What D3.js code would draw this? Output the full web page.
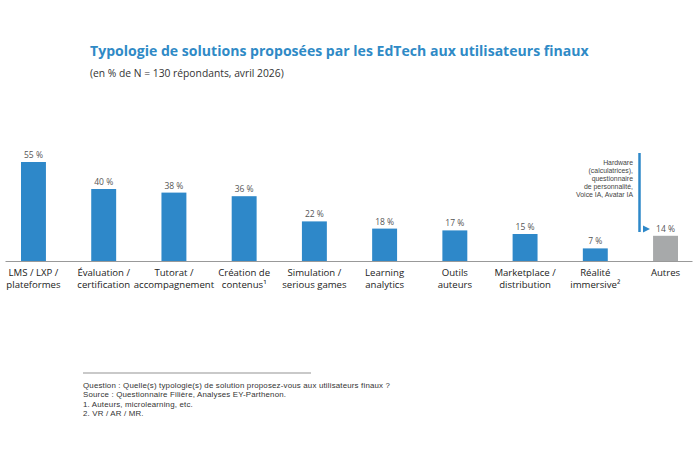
<!DOCTYPE html>
<html>
<head>
<meta charset="utf-8">
<script src="https://cdn.jsdelivr.net/npm/d3@7"></script>
<style>
  body { margin: 0; background: #fff; }
  svg { font-family: "Open Sans", "Noto Sans", sans-serif; }
</style>
</head>
<body>
<div class="chart"></div>
<script>
const categories = [
  ['LMS / LXP /', 'plateformes'],
  ['Évaluation /', 'certification'],
  ['Tutorat /', 'accompagnement'],
  ['Création de', 'contenus¹'],
  ['Simulation /', 'serious games'],
  ['Learning', 'analytics'],
  ['Outils', 'auteurs'],
  ['Marketplace /', 'distribution'],
  ['Réalité', 'immersive²'],
  ['Autres']
]
const values = [55, 40, 38, 36, 22, 18, 17, 15, 7, 14]
const otherNote = ['Hardware', '(calculatrices),', 'questionnaire', 'de personnalité,', 'Voice IA, Avatar IA']
const footnotes = [
  'Question : Quelle(s) typologie(s) de solution proposez-vous aux utilisateurs finaux ?',
  'Source : Questionnaire Filière, Analyses EY-Parthenon.',
  '1. Auteurs, microlearning, etc.',
  '2. VR / AR / MR.'
]
const title = 'Typologie de solutions proposées par les EdTech aux utilisateurs finaux'
const subtitle = '(en % de N = 130 répondants, avril 2026)'

const width = 700
const height = 470
const baseY = 261

const svg = d3.select('.chart')
  .append('svg')
  .attr('width', width)
  .attr('height', height)

const keys = categories.map((c, i) => i)

const x = d3.scaleBand()
  .domain(keys)
  .range([21, 678])
  .paddingInner(0.645)
  .paddingOuter(0)

const y = d3.scaleLinear()
  .domain([0, 55])
  .range([baseY, baseY - 99])

// title
const t = svg.append('text')
  .attr('x', 90)
  .attr('y', 56)
  .attr('fill', '#2f8ac6')
  .attr('font-weight', 700)
  .attr('font-size', 15)
  .text(title)
// fit the title to the width in the picture
const tw = t.node().getComputedTextLength()
t.attr('font-size', 15 * 499 / tw)

const st = svg.append('text')
  .attr('x', 90)
  .attr('y', 77)
  .attr('fill', '#333')
  .attr('font-size', 10)
  .text(subtitle)
st.attr('font-size', 10 * 194 / st.node().getComputedTextLength())

// bars
svg.selectAll('.bar')
  .data(values)
  .join('rect')
  .attr('class', 'bar')
  .attr('x', (d, i) => x(i))
  .attr('y', d => y(d))
  .attr('width', x.bandwidth())
  .attr('height', d => y(0) - y(d))
  .attr('fill', (d, i) => i === values.length - 1 ? '#a7a9aa' : '#2e88c9')

// value labels
svg.selectAll('.val')
  .data(values)
  .join('text')
  .attr('class', 'val')
  .attr('x', (d, i) => x(i) + x.bandwidth() / 2)
  .attr('y', d => y(d) - 4)
  .attr('text-anchor', 'middle')
  .attr('font-size', 8.5)
  .attr('fill', '#555')
  .text(d => d + ' %')

// axis line
const axis = svg.append('g')
  .attr('transform', `translate(0,${baseY})`)
  .call(d3.axisBottom(d3.scaleLinear().domain([0, 1]).range([5, 692])).ticks(0).tickSize(0).tickFormat(''))
axis.select('.domain').attr('stroke', '#999').attr('stroke-width', 1)

// category labels
const cats = svg.selectAll('.cat')
  .data(categories)
  .join('text')
  .attr('class', 'cat')
  .attr('x', (d, i) => x(i) + x.bandwidth() / 2)
  .attr('y', 276)
  .attr('text-anchor', 'middle')
  .attr('font-size', 9.6)
  .attr('fill', '#222')
cats.selectAll('tspan')
  .data(d => d)
  .join('tspan')
  .attr('x', function () { return d3.select(this.parentNode).attr('x') })
  .attr('dy', (d, i) => i === 0 ? 0 : 12)
  .text(d => d)

// annotation for "Autres"
svg.append('line')
  .attr('x1', 639.5).attr('x2', 639.5)
  .attr('y1', 153).attr('y2', 232)
  .attr('stroke', '#2e88c9')
  .attr('stroke-width', 2.5)
svg.append('path')
  .attr('d', d3.line()([[643, 225.5], [650, 229], [643, 232.5]]))
  .attr('fill', '#2e88c9')
svg.selectAll('.note')
  .data(otherNote)
  .join('text')
  .attr('class', 'note')
  .attr('x', 633)
  .attr('y', (d, i) => 164.5 + i * 8)
  .attr('text-anchor', 'end')
  .attr('font-family', 'Liberation Sans, Arial, sans-serif')
  .attr('font-size', 6.9)
  .attr('fill', '#444')
  .text(d => d)

// footnotes
svg.append('line')
  .attr('x1', 83).attr('x2', 311)
  .attr('y1', 373).attr('y2', 373)
  .attr('stroke', '#666')
  .attr('stroke-width', 0.7)
const foot = svg.selectAll('.foot')
  .data(footnotes)
  .join('text')
  .attr('class', 'foot')
  .attr('x', 83)
  .attr('y', (d, i) => 388 + i * 9.3)
  .attr('font-family', 'Liberation Sans, Arial, sans-serif')
  .attr('font-size', 7.9)
  .attr('fill', '#333')
  .text(d => d)
// widen the letters a bit so the first line ends where it does in the picture
const fnode = foot.node()
const fw = fnode.getComputedTextLength()
const ls = Math.max(0, (307 - fw) / (footnotes[0].length - 1))
foot.attr('letter-spacing', ls)
</script>
</body>
</html>
